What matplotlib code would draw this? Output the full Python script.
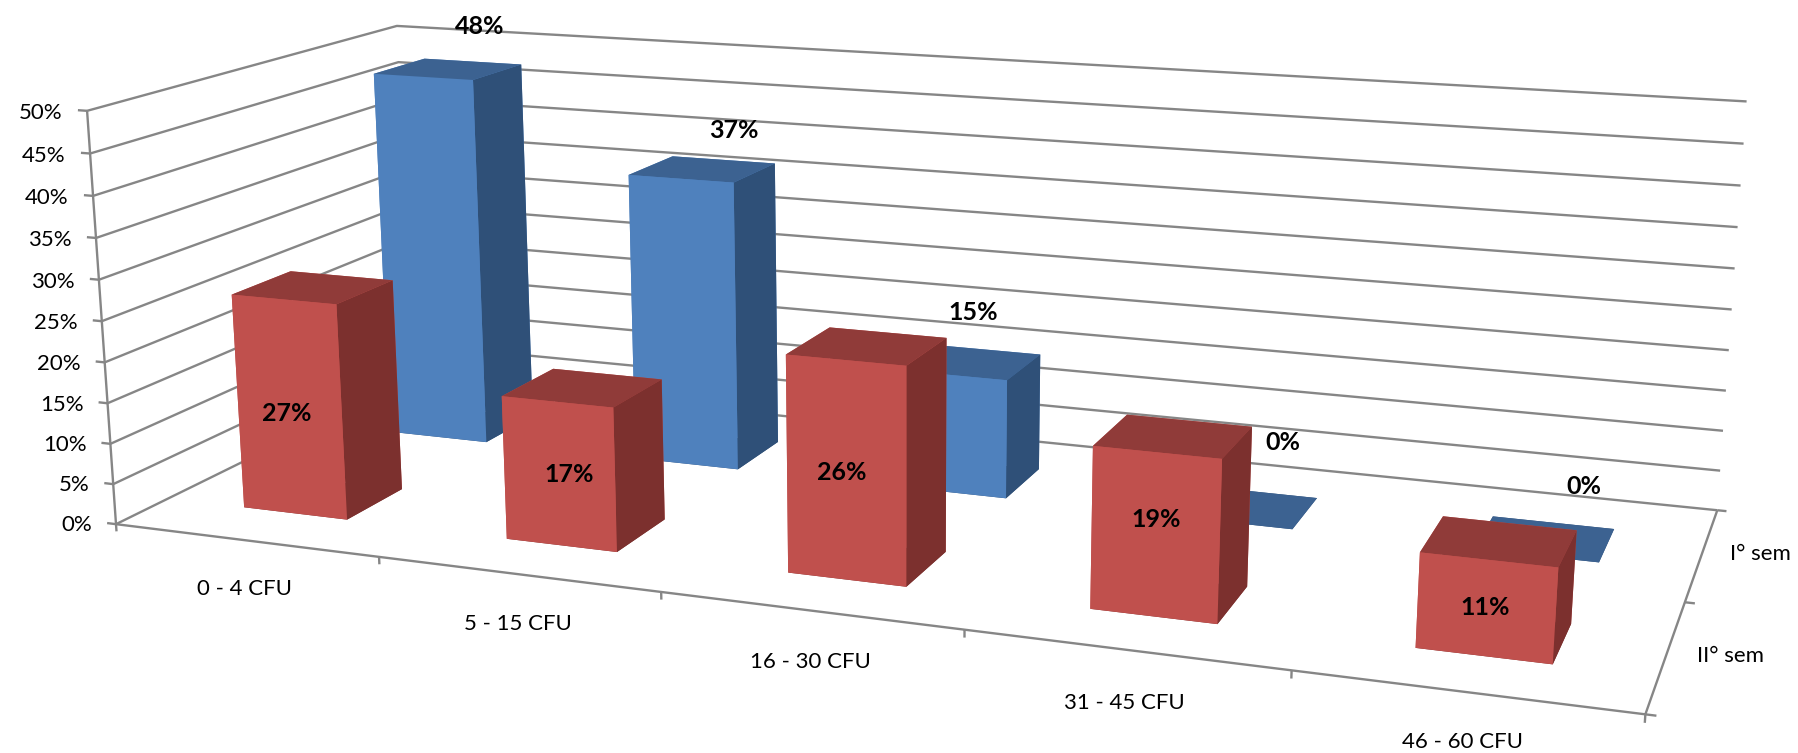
import numpy as np
import matplotlib
matplotlib.use("Agg")
import matplotlib.pyplot as plt
from mpl_toolkits.mplot3d import proj3d

W, H = 1798, 753

categories = ["0 - 4 CFU", "5 - 15 CFU", "16 - 30 CFU", "31 - 45 CFU", "46 - 60 CFU"]
series_labels = ["II° sem", "I° sem"]
# bar heights, the labels show them rounded
first_sem = [47.8, 37, 15, 0, 0]
second_sem = [26.6, 17.4, 25.6, 18.6, 10.6]
z_ticks = list(range(0, 55, 5))

# where the corners of the plot box sit in the picture (x, y, z) -> (px, py)
calib_world = [(0, 0, 0), (0, 0, 50), (0, 2, 50), (0, 2, 0), (5, 2, 50), (5, 2, 0), (5, 0, 0),
               (1, 0, 0), (2, 0, 0), (3, 0, 0), (4, 0, 0), (5, 1, 0), (5, 2, 45)]
calib_px = [(116, 525), (87, 111), (397, 25), (412, 378), (1747, 102), (1715, 511), (1644, 713),
            (380, 558), (662, 592), (961, 629), (1292, 670), (1690, 602), (1743, 144)]

# hand nudges of the labels, in pixels (right, up)
first_nudge = [(31, -4), (31, -9), (2, 2), (33, 16), (36, 2)]
second_nudge = [(7, -2), (18, 5), (3, 4), (6, 21), (3, 7)]
cat_nudge = [(-4, 0), (-1, 0), (0, 0), (0, 0), (0, 5)]


def fit_camera(world, px):
    # plain DLT, scaled so the numbers stay comparable
    sw = np.diag([1 / 5, 1 / 2, 1 / 50, 1.0])
    rows = []
    for (x, y, z), (u, v) in zip(world, px):
        X = sw @ np.array([x, y, z, 1.0])
        u, v = u / 1000, (H - v) / 1000
        rows.append(np.r_[X, np.zeros(4), -u * X])
        rows.append(np.r_[np.zeros(4), X, -v * X])
    p = np.linalg.svd(np.array(rows))[2][-1].reshape(3, 4)
    p = np.diag([1000, 1000, 1.0]) @ p @ sw
    if (p[2] @ np.array([2.5, 1, 0, 1])) < 0:
        p = -p
    return p


P = fit_camera(calib_world, calib_px)
wmin = (P[2] @ np.array([0, 0, 0, 1.0]))
M = np.vstack([P[0], P[1], P[2] - np.array([0, 0, 0, wmin * 0.5]), P[2]])

plt.rcParams['font.family'] = ['Lato', 'DejaVu Sans']

fig = plt.figure(figsize=(W / 100, H / 100), dpi=100)
# 3d axes are always square, so make the square as wide as the figure
ax = fig.add_axes([0, (H - W) / 2 / H, 1, W / H], projection='3d')
ax.set_proj_type('ortho')  # only stops the line clipping, get_proj is replaced below
ax.get_proj = lambda: M
ax.viewLim.intervalx = (0, W)
ax.viewLim.intervaly = ((H - W) / 2, H + (W - H) / 2)
ax.computed_zorder = False
ax.set_xticks([])
ax.set_yticks([])
ax.set_zticks([])
ax.set_axis_off()
ax.patch.set_visible(False)


def label(x, y, z, s, nudge=(0, 0), **kw):
    # project to the picture, then place as normal 2d text
    px, py, _ = proj3d.proj_transform(x, y, z, M)
    ax.text2D(px + nudge[0], py + nudge[1], s, transform=ax.transData, zorder=5,
              ha=kw.pop('ha', 'center'), va='center', **kw)


LINE = '#868686'
LW = 1.7
line_kw = dict(color=LINE, lw=LW, zorder=1, solid_capstyle='butt')

# gridlines on the back and side walls
for z in z_ticks:
    ax.plot([0, 0, 5], [0, 2, 2], [z, z, z], **line_kw)
    ax.plot([-0.035, 0], [0, 0], [z, z], **line_kw)
    label(-0.095, 0, z - 0.5, f"{z}%", ha='right', fontsize=16)

# axis lines and tick marks
ax.plot([0, 0], [0, 0], [0, 50], **line_kw)
ax.plot([0, 5, 5], [0, 0, 2], [0, 0, 0], **line_kw)
for i in range(len(categories) + 1):
    ax.plot([i, i], [0, 0], [0, -0.9], **line_kw)
for j in range(3):
    ax.plot([5, 5.03], [j, j], [0, 0], **line_kw)

# bars, blue row behind the red one
BLUE = ['#2F5078', '#3C6291', '#4F81BD', '#4F81BD', '#4F81BD', '#2F5078']
RED = ['#7C302E', '#903B39', '#C0504D', '#C0504D', '#C0504D', '#7C302E']
BAR_W = 0.40
BAR_D = 0.37
xpos = np.arange(5) + 0.5 - BAR_W / 2


def bars(values, y0, colors, zorder):
    for x, v in zip(xpos, values):
        ax.bar3d(x, y0, 0, BAR_W, BAR_D, v, color=colors, shade=False, zorder=zorder, linewidth=0)


bars(first_sem, 1.30, BLUE, 2)
bars(second_sem, 0.31, RED, 3)

# data labels
for x, v, nudge in zip(xpos, first_sem, first_nudge):
    label(x + BAR_W / 2, 1.5, v + 6, f"{round(v)}%", nudge, fontsize=18, fontweight='bold')
for x, v, nudge in zip(xpos, second_sem, second_nudge):
    label(x + BAR_W / 2, 0.25, v / 2, f"{round(v)}%", nudge, fontsize=18, fontweight='bold')

# axis text
for i, name in enumerate(categories):
    label(i + 0.5, 0, -6, name, cat_nudge[i], fontsize=16)
for j, name in enumerate(series_labels):
    label(5.18, j + 0.5, 0.8, name, fontsize=16)

fig.savefig("out.png", dpi=100)
